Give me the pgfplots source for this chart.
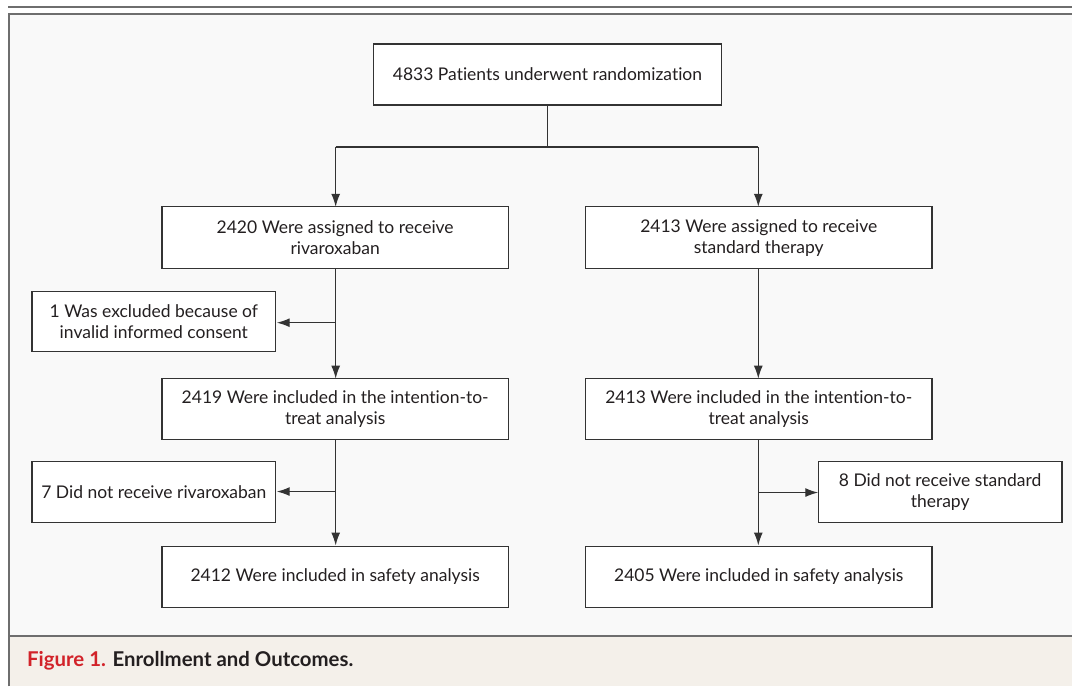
\documentclass[border=0pt]{standalone}
\usepackage{pgfplots}
\pgfplotsset{compat=1.18}
\usepackage{fontspec}
\setmainfont[Ligatures=NoCommon]{Lato}
\usetikzlibrary{arrows.meta}
\definecolor{framegray}{HTML}{6E6E6E}
\definecolor{panelbg}{HTML}{F9F9F9}
\definecolor{capbg}{HTML}{F4F0EA}
\definecolor{boxline}{HTML}{333333}
\definecolor{txt}{HTML}{231F20}
\definecolor{nejmred}{HTML}{D2232A}
\newcommand{\bx}[5]{%
  \draw[boxline,line width=1.3pt,fill=white] (#1,#3) rectangle (#2,#4);
  \node[txt,align=center,inner sep=0pt,font=\fontsize{17.5}{21}\selectfont] at ({(#1+#2)/2},{(#3+#4)/2}) {#5};}
\begin{document}
\begin{tikzpicture}
\begin{axis}[width=1073pt,height=687pt,scale only axis,
  xmin=0,xmax=1073,ymin=0,ymax=687,y dir=reverse,hide axis,clip=false]
\fill[white] (0,0) rectangle (1073,687);
% top rule
\fill[framegray] (8,6) rectangle (1073,8);
% panel
\fill[panelbg] (9,14) rectangle (1073,636);
\fill[capbg] (9,637) rectangle (1073,687);
\draw[framegray,line width=2pt] (9,687) -- (9,14) -- (1073,14);
\draw[framegray,line width=2pt] (9,636.5) -- (1073,636.5);
% connectors
\tikzset{con/.style={boxline,line width=1.3pt},
  arr/.style={boxline,line width=1.3pt,-{Latex[length=13pt,width=9pt]}}}
\draw[con] (548,105) -- (548,147);
\draw[con] (336,147) -- (759,147);
\draw[arr] (336,147) -- (336,207);
\draw[arr] (759,147) -- (759,207);
\draw[arr] (336,269) -- (336,379);
\draw[arr] (336,323) -- (277,323);
\draw[arr] (759,269) -- (759,379);
\draw[arr] (336,440) -- (336,546);
\draw[arr] (336,492) -- (277,492);
\draw[arr] (759,440) -- (759,546);
\draw[arr] (759,493) -- (819,493);
% boxes
\bx{374}{722}{44}{105}{4833 Patients underwent randomization}
\bx{162}{509}{207}{269}{2420 Were assigned to receive\\rivaroxaban}
\bx{586}{933}{207}{269}{2413 Were assigned to receive\\standard therapy}
\bx{32}{276}{292}{352}{1 Was excluded because of\\invalid informed consent}
\bx{162}{509}{379}{440}{2419 Were included in the intention-to-\\treat analysis}
\bx{586}{933}{379}{440}{2413 Were included in the intention-to-\\treat analysis}
\bx{32}{276}{462}{523}{7 Did not receive rivaroxaban}
\bx{819}{1063}{462}{523}{8 Did not receive standard\\therapy}
\bx{162}{509}{547}{608}{2412 Were included in safety analysis}
\bx{586}{933}{547}{608}{2405 Were included in safety analysis}
% caption
\node[anchor=west,inner sep=0pt,font=\fontsize{20.4}{24}\selectfont\bfseries] at (27,661)
  {\textcolor{nejmred}{Figure 1.} \textcolor{txt}{Enrollment and Outcomes.}};
\end{axis}
\end{tikzpicture}
\end{document}
